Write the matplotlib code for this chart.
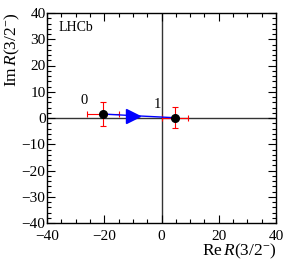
import matplotlib
matplotlib.use("Agg")
import matplotlib.pyplot as plt
from matplotlib.ticker import MultipleLocator

# points (Re, Im) with errors
point_labels = ["0", "1"]
re_vals = [-20.3, 4.8]
im_vals = [1.5, 0.1]
re_err = [5.6, 4.6]
im_err = [4.5, 4.0]
label_pos_re = [-27.0, -1.5]
label_pos_im = [6.5, 5.0]
# path between points and direction marker
path_re = [-20.3, -10.0, 4.8]
path_im = [1.5, 0.9, 0.1]

plt.rcParams["font.family"] = ["Liberation Serif", "DejaVu Serif"]
plt.rcParams["mathtext.fontset"] = "custom"
plt.rcParams["mathtext.it"] = "Liberation Serif:italic"
plt.rcParams["mathtext.rm"] = "Liberation Serif"

fig = plt.figure(figsize=(2.91, 2.66), dpi=100)
ax = fig.add_axes([47 / 291, 43 / 266, 229 / 291, 210 / 266])

ax.axhline(0, color="#333333", lw=1.0, zorder=1)
ax.axvline(0, color="#333333", lw=1.0, zorder=1)

ax.plot(path_re, path_im, color="blue", lw=1.0, zorder=3)
ax.plot([path_re[1]], [path_im[1]], marker=">", color="blue", ms=10, zorder=4)

ax.errorbar(re_vals, im_vals, xerr=re_err, yerr=im_err, fmt="none",
            ecolor="red", elinewidth=0.8, capsize=2, capthick=0.8, zorder=2)
ax.plot(re_vals, im_vals, "o", color="black", ms=5.5, zorder=5)

for lab, lx, ly in zip(point_labels, label_pos_re, label_pos_im):
    ax.text(lx, ly, lab, fontsize=10.5, ha="center", va="center")

ax.text(-36, 34.5, "LHCb", fontsize=10, ha="left", va="center")

ax.set_xlim(-40, 40)
ax.set_ylim(-40, 40)
ax.xaxis.set_major_locator(MultipleLocator(20))
ax.xaxis.set_minor_locator(MultipleLocator(5))
ax.yaxis.set_major_locator(MultipleLocator(10))
ax.yaxis.set_minor_locator(MultipleLocator(2))
ax.tick_params(which="both", direction="in", top=True, right=True,
               labelsize=11)
ax.tick_params(axis="x", pad=5)
ax.tick_params(axis="y", pad=1)
ax.tick_params(which="major", length=6, width=0.8)
ax.tick_params(which="minor", length=3, width=0.8)
for s in ax.spines.values():
    s.set_linewidth(1.0)

ax.set_xlabel(r"Re$\,R$(3/2$^{-}$)", fontsize=12.5, loc="right", labelpad=-1)
ax.set_ylabel(r"Im$\,R$(3/2$^{-}$)", fontsize=12.5, loc="top", labelpad=0)

fig.savefig("out.png", dpi=100)
